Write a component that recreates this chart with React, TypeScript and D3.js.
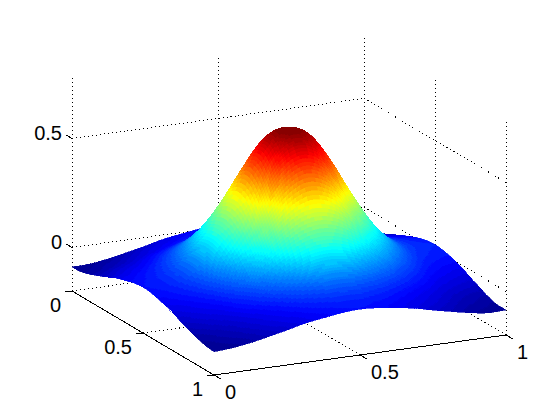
import React from 'react';
import * as d3 from 'd3';

// axis ticks
const uTicks = [0, 0.5, 1];
const vTicks = [0, 0.5, 1];
const zTicks = [0, 0.5];
const zFloor = -0.2;
const zTop = 0.79;

// surface heights, rows run along v, columns along u
const zGrid = [
  [-0.090, -0.087, -0.075, -0.058, -0.040, -0.020, -0.007, 0.005, 0.010, 0.005, -0.007, -0.020, -0.040, -0.058, -0.075, -0.087, -0.090],
  [-0.087, -0.075, -0.062, -0.041, -0.023, -0.007, 0.008, 0.017, 0.021, 0.017, 0.008, -0.007, -0.023, -0.041, -0.062, -0.075, -0.087],
  [-0.075, -0.062, -0.045, -0.024, -0.005, 0.016, 0.035, 0.048, 0.053, 0.048, 0.035, 0.016, -0.005, -0.024, -0.045, -0.062, -0.072],
  [-0.058, -0.041, -0.024, 0.000, 0.027, 0.056, 0.085, 0.107, 0.115, 0.107, 0.085, 0.056, 0.027, 0.000, -0.024, -0.040, -0.052],
  [-0.040, -0.023, -0.005, 0.027, 0.065, 0.113, 0.162, 0.200, 0.214, 0.200, 0.162, 0.113, 0.065, 0.027, -0.005, -0.020, -0.032],
  [-0.020, -0.007, 0.016, 0.056, 0.113, 0.186, 0.266, 0.330, 0.352, 0.330, 0.266, 0.186, 0.113, 0.056, 0.016, -0.003, -0.012],
  [-0.007, 0.008, 0.035, 0.085, 0.162, 0.266, 0.380, 0.470, 0.505, 0.470, 0.380, 0.266, 0.162, 0.085, 0.035, 0.014, 0.005],
  [0.005, 0.017, 0.048, 0.107, 0.200, 0.330, 0.470, 0.580, 0.616, 0.580, 0.470, 0.330, 0.200, 0.107, 0.048, 0.025, 0.017],
  [0.010, 0.021, 0.053, 0.115, 0.214, 0.352, 0.505, 0.616, 0.645, 0.616, 0.505, 0.352, 0.214, 0.115, 0.053, 0.029, 0.022],
  [0.005, 0.017, 0.048, 0.107, 0.200, 0.330, 0.470, 0.580, 0.616, 0.580, 0.470, 0.330, 0.200, 0.107, 0.048, 0.025, 0.017],
  [-0.007, 0.008, 0.035, 0.085, 0.162, 0.266, 0.380, 0.470, 0.505, 0.470, 0.380, 0.266, 0.162, 0.085, 0.035, 0.014, 0.005],
  [-0.020, -0.007, 0.016, 0.056, 0.113, 0.186, 0.266, 0.330, 0.352, 0.330, 0.266, 0.186, 0.113, 0.056, 0.016, -0.003, -0.012],
  [-0.040, -0.023, -0.005, 0.027, 0.065, 0.113, 0.162, 0.200, 0.214, 0.200, 0.162, 0.113, 0.065, 0.027, -0.005, -0.020, -0.032],
  [-0.058, -0.041, -0.024, 0.000, 0.027, 0.056, 0.085, 0.107, 0.115, 0.107, 0.085, 0.056, 0.027, 0.000, -0.024, -0.040, -0.052],
  [-0.075, -0.062, -0.045, -0.024, -0.005, 0.016, 0.035, 0.048, 0.053, 0.048, 0.035, 0.016, -0.005, -0.024, -0.045, -0.062, -0.072],
  [-0.088, -0.075, -0.062, -0.041, -0.023, -0.007, 0.008, 0.017, 0.021, 0.017, 0.008, -0.007, -0.023, -0.041, -0.062, -0.075, -0.085],
  [-0.093, -0.087, -0.075, -0.058, -0.040, -0.020, -0.007, 0.005, 0.010, 0.005, -0.007, -0.020, -0.040, -0.058, -0.075, -0.087, -0.085],
];

// oblique projection of the box onto the page
const uToX = d3.scaleLinear().domain([0, 1]).range([0, 292]);
const vToX = d3.scaleLinear().domain([0, 1]).range([72, 214]);
const uToY = d3.scaleLinear().domain([0, 1]).range([0, -40]);
const vToY = d3.scaleLinear().domain([0, 1]).range([291, 375]);
const zToY = d3.scaleLinear().domain([zFloor, zFloor + 1]).range([0, -218]);

const project = (u: number, v: number, z: number): [number, number] => [
  uToX(u) + vToX(v),
  uToY(u) + vToY(v) + zToY(z),
];

const segment = (a: [number, number], b: [number, number]) => `M${a[0]},${a[1]}L${b[0]},${b[1]}`;

// jet colormap, 64 flat levels like the figure
const zValues = zGrid.flat();
const toLevel = d3.scaleQuantize<number>()
  .domain([d3.min(zValues) as number, d3.max(zValues) as number])
  .range(d3.range(64));
const jet = d3.scaleLinear<string>()
  .domain([0, 0.125, 0.375, 0.625, 0.875, 1])
  .range(['#00008f', '#0000ff', '#00ffff', '#ffff00', '#ff0000', '#800000']);
const jetColor = (z: number) => jet((toLevel(z) + 0.5) / 64);

// smooth shading between the grid nodes
const catmull = (p0: number, p1: number, p2: number, p3: number, t: number) =>
  0.5 * (2 * p1 + (p2 - p0) * t + (2 * p0 - 5 * p1 + 4 * p2 - p3) * t * t + (3 * p1 - p0 - 3 * p2 + p3) * t * t * t);

const n = zGrid.length - 1;
const clampIdx = (i: number) => Math.max(0, Math.min(n, i));

const heightAt = (u: number, v: number) => {
  const fu = Math.min(u * n, n - 1e-6);
  const fv = Math.min(v * n, n - 1e-6);
  const iu = Math.floor(fu);
  const iv = Math.floor(fv);
  const rows = [-1, 0, 1, 2].map((d) => {
    const row = zGrid[clampIdx(iv + d)];
    return catmull(row[clampIdx(iu - 1)], row[clampIdx(iu)], row[clampIdx(iu + 1)], row[clampIdx(iu + 2)], fu - iu);
  });
  return catmull(rows[0], rows[1], rows[2], rows[3], fv - iv);
};

const steps = n * 9;
const stepU = d3.range(steps + 1).map((i) => i / steps);

// far to near: u falling, v rising
const buildFacets = () => {
  const out: { d: string; fill: string }[] = [];
  for (let iu = steps - 1; iu >= 0; iu--) {
    for (let iv = 0; iv < steps; iv++) {
      const corners = [
        [stepU[iu], stepU[iv]],
        [stepU[iu + 1], stepU[iv]],
        [stepU[iu + 1], stepU[iv + 1]],
        [stepU[iu], stepU[iv + 1]],
      ];
      const heights = corners.map(([u, v]) => heightAt(u, v));
      const pts = corners.map(([u, v], i) => project(u, v, heights[i]));
      out.push({
        d: `M${pts.map((p) => `${p[0].toFixed(2)},${p[1].toFixed(2)}`).join('L')}Z`,
        fill: jetColor(d3.mean(heights) as number),
      });
    }
  }
  return out;
};

const App = () => {
  const facets = buildFacets();

  const grid = [
    ...uTicks.map((u) => segment(project(u, 0, zFloor), project(u, 1, zFloor))),
    ...vTicks.map((v) => segment(project(0, v, zFloor), project(1, v, zFloor))),
    ...uTicks.map((u) => segment(project(u, 0, zFloor), project(u, 0, zTop))),
    ...vTicks.slice(1).map((v) => segment(project(1, v, zFloor), project(1, v, zTop))),
    ...zTicks.map((z) => segment(project(0, 0, z), project(1, 0, z))),
    ...zTicks.map((z) => segment(project(1, 0, z), project(1, 1, z))),
  ];

  const axes = [
    segment(project(0, 0, zFloor), project(0, 1, zFloor)),
    segment(project(0, 1, zFloor), project(1, 1, zFloor)),
    ...vTicks.map((v) => segment(project(0, v, zFloor), project(-0.024, v, zFloor))),
    ...uTicks.map((u) => segment(project(u, 1, zFloor), project(u, 1.05, zFloor))),
    ...zTicks.map((z) => segment(project(0, 0, z), project(0, -0.045, z))),
  ];

  return (
    <svg width={560} height={420} style={{ position: 'fixed', left: 0, top: 0, background: '#fff' }}>
      <path d={grid.join('')} fill="none" stroke="#000" strokeWidth={1} strokeDasharray="1 3" shapeRendering="crispEdges" />
      <g shapeRendering="crispEdges">
        {facets.map((f, i) => (
          <path key={i} d={f.d} fill={f.fill} stroke={f.fill} strokeWidth={0.6} />
        ))}
      </g>
      <path d={axes.join('')} fill="none" stroke="#000" strokeWidth={1} shapeRendering="crispEdges" />
      <g fontFamily="'Liberation Sans', Arial, sans-serif" fontSize={20} fill="#000">
        {vTicks.map((v) => {
          const [x, y] = project(0, v, zFloor);
          return <text key={v} x={x - 11} y={y + 21} textAnchor="end">{v}</text>;
        })}
        {uTicks.map((u) => {
          const [x, y] = project(u, 1, zFloor);
          return <text key={u} x={x + 11} y={y + 24}>{u}</text>;
        })}
        {zTicks.map((z) => {
          const [x, y] = project(0, 0, z);
          return <text key={z} x={x - 10} y={y + 2} textAnchor="end">{z}</text>;
        })}
      </g>
    </svg>
  );
};

export default App;
